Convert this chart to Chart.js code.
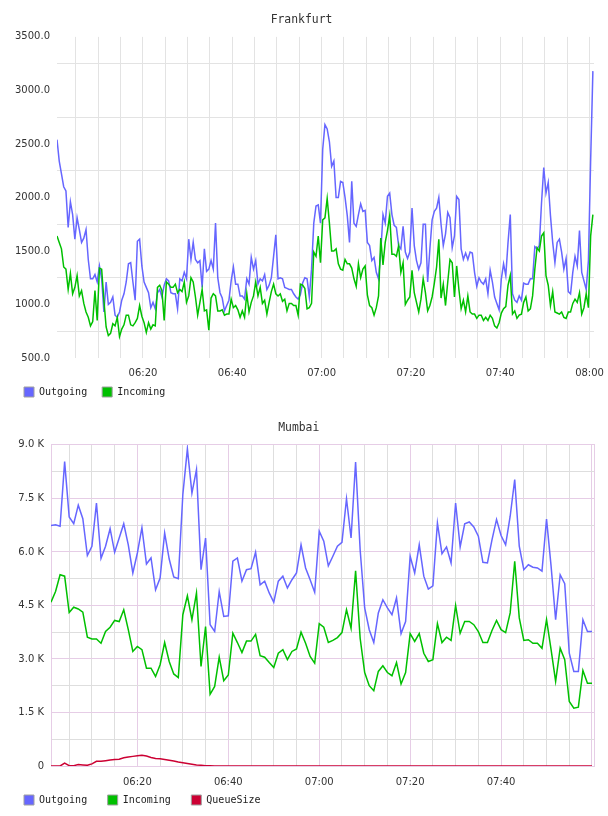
<!DOCTYPE html>
<html>
<head>
<meta charset="utf-8">
<title>Frankfurt / Mumbai</title>
<script src="https://cdn.jsdelivr.net/npm/chart.js@4.4.1/dist/chart.umd.min.js"></script>
<style>
  html, body { margin: 0; padding: 0; background: #fff; }
  .panel { position: absolute; left: 0; width: 608px; height: 408px; }
</style>
</head>
<body>
<div class="panel" style="top:0"><canvas id="frankfurt" width="608" height="408"></canvas></div>
<div class="panel" style="top:408px"><canvas id="mumbai" width="608" height="408"></canvas></div>
<script>
// time is kept in minutes after 06:00
const frankStart = 0.75, frankStep = 0.5;
const frankOut = [
  2540,2340,2220,2100,2060,1720,1960,1840,1610,1810,
  1700,1580,1620,1700,1420,1240,1240,1280,1210,1360,
  1240,930,1210,1000,1020,1070,900,880,930,1040,
  1100,1210,1380,1390,1210,1040,1590,1610,1360,1210,
  1160,1110,970,1020,960,1110,1140,1070,1180,1240,
  1220,1110,1100,1100,960,1240,1220,1300,1240,1610,
  1420,
  1580,1420,1390,1410,1160,1520,1310,1330,1410,1330,
  1760,1250,1110,1060,940,990,1040,1220,1350,1190,
  1190,1080,1080,1050,1240,1190,1440,1330,1410,1190,
  1240,1220,1280,1140,1180,1250,1450,1650,1240,1250,
  1240,1160,1150,1140,1140,1100,1070,1050,1090,1200,
  1250,1240,1070,1330,1760,1920,1930,1760,2450,2680,
  2640,2520,2290,2340,2000,2000,2150,2140,2000,1830,
  1580,2150,1760,1730,1840,1940,1870,1880,1580,1550,
  1410,1440,1300,1240,1490,1840,1760,2010,2040,1840,
  1740,1720,1550,1520,1730,1490,1430,1490,1900,1550,
  1410,1330,1390,1750,1750,1210,1520,1790,1870,1900,
  2000,1750,1550,1660,1860,1810,1530,1640,2010,1980,
  1520,1420,1480,1420,1490,1480,1300,1170,1250,1210,
  1190,1240,1100,1320,1210,1070,1010,950,1240,1380,
  1270,1580,1840,1100,1040,1020,1080,1040,1200,1190,
  1190,1240,1240,1540,1520,1550,1950,2280,2040,2140,
  1830,1580,1390,1580,1610,1490,1330,1430,1120,1100,
  1300,1450,1360,1690,1300,1220,1140,1410,2350,3180
];
const frankIn = [
  1640,1580,1520,1350,1330,1140,1290,1100,1160,1270,
  1080,1130,1010,930,880,800,840,1130,850,1340,
  1330,1040,790,710,730,820,800,880,700,770,
  810,900,900,810,800,830,870,990,890,830,
  740,830,770,810,800,1160,1180,1130,850,1210,
  1190,1160,1160,1190,1110,1140,1120,1210,1020,1080,
  1250,
  1210,1070,900,1020,1140,940,950,760,1060,1100,
  1080,940,940,950,900,910,910,1050,970,990,
  950,880,940,880,1100,930,1020,1080,1210,1080,
  1160,1010,1040,910,1020,1120,1190,1100,1080,1100,
  1030,1050,940,1010,1010,990,990,900,1190,1180,
  1150,960,970,1010,1490,1450,1640,1390,1790,1810,
  1990,1760,1500,1500,1520,1380,1330,1320,1420,1380,
  1380,1340,1240,1170,1380,1250,1330,1360,1090,990,
  970,900,970,1080,1620,1370,1580,1690,1830,1470,
  1470,1450,1550,1300,1390,1000,1040,1070,1320,1110,
  1020,930,1050,1240,1110,940,990,1070,1200,1350,
  1610,1060,1190,990,1210,1420,1390,1070,1360,1140,
  960,1040,930,1080,930,910,910,870,900,900,
  850,880,850,900,870,800,780,830,920,960,
  980,1180,1270,910,940,870,900,910,1020,1070,
  940,960,1080,1330,1530,1500,1640,1670,1270,1180,
  990,1120,930,920,910,930,880,870,930,930,
  1010,1050,1020,1110,910,970,1100,970,1640,1840
];

const mumStart = 1, mumStep = 1;
const mumOut = [
  6740,6760,6720,8530,6980,6790,7310,6930,5900,6160,
  7370,5820,6160,6650,5990,6390,6790,6200,5410,5970,
  6680,5660,5830,4940,5270,6530,5800,5300,5250,7610,
  8890,7650,8310,5500,6390,3960,3770,4890,4190,4210,
  5740,5830,5180,5500,5530,5990,5080,5180,4850,4590,
  5180,5320,4990,5220,5410,6200,5550,5220,4870,6580,
  6300,5610,5880,6160,6270,7490,6390,8520,6060,4430,
  3820,3460,4290,4660,4430,4240,4710,3710,4050,5880,
  5410,6200,5320,4960,5050,6810,5950,6140,5690,7370,
  6140,6790,6840,6700,6440,5710,5690,6340,6910,6460,
  6200,7000,8030,6160,5500,5640,5570,5550,5460,6920,
  5600,4100,5360,5110,3160,2650,2650,4100,3770,3770
];
const mumIn = [
  4590,4890,5360,5320,4300,4450,4400,4310,3610,3560,
  3560,3440,3770,3890,4080,4050,4380,3820,3210,3350,
  3260,2740,2740,2510,2840,3460,2930,2580,2480,4240,
  4770,4100,4850,2790,3910,2010,2230,3050,2390,2550,
  3720,3460,3180,3500,3500,3690,3090,3050,2900,2760,
  3160,3260,2980,3210,3280,3750,3440,3070,2880,3990,
  3890,3460,3520,3600,3740,4380,3860,5470,3580,2620,
  2250,2110,2650,2810,2620,2530,2900,2300,2620,3710,
  3490,3710,3160,2930,2980,3990,3460,3610,3520,4500,
  3720,4050,4050,3960,3770,3460,3460,3800,4080,3820,
  3740,4290,5740,4150,3520,3540,3440,3440,3300,4100,
  3260,2370,3300,2980,1810,1620,1650,2680,2320,2320
];
const mumQueue = [
  0,0,0,80,10,10,40,30,20,60,
  130,130,150,170,180,190,230,250,270,290,
  300,280,240,210,200,180,160,140,110,90,
  70,50,30,20,10,10,0,0,0,0,
  0,0,0,0,0,0,0,0,0,0,
  0,0,0,0,0,0,0,0,0,0,
  0,0,0,0,0,0,0,0,0,0,
  0,0,0,0,0,0,0,0,0,0,
  0,0,0,0,0,0,0,0,0,0,
  0,0,0,0,0,0,0,0,0,0,
  0,0,0,0,0,0,0,0,0,0,
  0,0,0,0,0,0,0,0,0,0
];

// x grid every 5 minutes, labels every 20
const gridMinutes = [5,10,15,20,25,30,35,40,45,50,55,60,65,70,75,80,85,90,95,100,105,110,115,120];
const frankLabelMinutes = [20,40,60,80,100,120];
const mumLabelMinutes = [20,40,60,80,100];

const BLUE = '#6666ff', GREEN = '#00c000', RED = '#cc0033';
const GRID = '#e3e3e3', MINOR = '#dedede', MAJOR = '#e6cde6';
const tickFont = { family: 'DejaVu Sans', size: 10 };

const timeAxis = (start, step, n) => Array.from({ length: n }, (_, i) => start + i * step);

function hhmm(m) {
  const h = 6 + Math.floor(m / 60), mm = m % 60;
  return String(h).padStart(2, '0') + ':' + String(mm).padStart(2, '0');
}

// the x axis is kept short so the legend sits close under it,
// so let its labels draw past the axis box instead of being clipped
const unclipXLabels = {
  id: 'unclipXLabels',
  afterLayout(chart) { chart.scales.x.bottom = chart.height; }
};

function legendOpts(gap) {
  return {
    position: 'bottom',
    align: 'start',
    labels: {
      boxWidth: 10, boxHeight: 10, padding: gap, color: '#222',
      font: { family: 'DejaVu Sans Mono', size: 10 },
      sort: (a, b) => a.datasetIndex - b.datasetIndex,
      generateLabels: chart => Chart.defaults.plugins.legend.labels.generateLabels(chart)
        .map(item => Object.assign(item, { strokeStyle: '#a0a0a0', lineWidth: 1 }))
    }
  };
}

function titleOpts(text) {
  return {
    display: true, text: text, color: '#333',
    font: { family: 'DejaVu Sans Mono', size: 11.4, weight: 'normal' },
    padding: { top: 10, bottom: 10 }
  };
}

function xScale(min, max, labelMinutes, pad, h, gridColor, border) {
  return {
    type: 'linear', min: min, max: max, bounds: 'data',
    afterBuildTicks: s => { s.ticks = gridMinutes.map(v => ({ value: v })); },
    afterFit: s => { s.height = h; s.paddingLeft = 0; s.paddingRight = 0; },
    ticks: {
      autoSkip: false, maxRotation: 0, minRotation: 0, padding: pad,
      color: '#333', font: tickFont,
      callback: v => labelMinutes.includes(v) ? hhmm(v) : ''
    },
    grid: { color: gridColor, drawTicks: false },
    border: border
  };
}

new Chart(document.getElementById('frankfurt'), {
  type: 'line',
  data: {
    labels: timeAxis(frankStart, frankStep, frankOut.length),
    datasets: [
      { label: 'Outgoing', data: frankOut, borderColor: BLUE, backgroundColor: BLUE, order: 1 },
      { label: 'Incoming', data: frankIn, borderColor: GREEN, backgroundColor: GREEN, order: 0 }
    ]
  },
  options: {
    responsive: false, animation: false, events: [],
    layout: { padding: { top: 3.2, left: 9, right: 14, bottom: 1 } },
    elements: { point: { radius: 0 }, line: { borderWidth: 1.5, tension: 0 } },
    plugins: { title: titleOpts('Frankfurt'), legend: legendOpts(15), tooltip: { enabled: false } },
    scales: {
      x: xScale(0.75, 121, frankLabelMinutes, 9, 14, GRID, { display: false }),
      y: {
        min: 500, max: 3500,
        afterFit: s => { s.width = 48; },
        ticks: { stepSize: 500, padding: 7, color: '#333', font: tickFont, callback: v => v.toFixed(1) },
        grid: { offset: true, color: GRID, drawTicks: false },
        border: { display: false }
      }
    }
  },
  plugins: [unclipXLabels]
});

new Chart(document.getElementById('mumbai'), {
  type: 'line',
  data: {
    labels: timeAxis(mumStart, mumStep, mumOut.length),
    datasets: [
      { label: 'Outgoing', data: mumOut, borderColor: BLUE, backgroundColor: BLUE, order: 2 },
      { label: 'Incoming', data: mumIn, borderColor: GREEN, backgroundColor: GREEN, order: 1 },
      { label: 'QueueSize', data: mumQueue, borderColor: RED, backgroundColor: RED, order: 0 }
    ]
  },
  options: {
    responsive: false, animation: false, events: [],
    layout: { padding: { top: 3.2, left: 3.5, right: 14, bottom: 1 } },
    elements: { point: { radius: 0 }, line: { borderWidth: 1.5, tension: 0 } },
    plugins: { title: titleOpts('Mumbai'), legend: legendOpts(20.5), tooltip: { enabled: false } },
    scales: {
      x: xScale(1, 120.44, mumLabelMinutes, 10, 8.5,
        c => (c.tick && c.tick.value % 20 === 0) ? MAJOR : MINOR, { color: MAJOR }),
      y: {
        min: 0, max: 9000,
        afterFit: s => { s.width = 47.5; },
        ticks: {
          stepSize: 750, autoSkip: false, padding: 7, color: '#333', font: tickFont,
          callback: v => v % 1500 ? '' : (v === 0 ? '0' : (v / 1000).toFixed(1) + ' K')
        },
        grid: { color: c => (c.tick && c.tick.value % 1500 === 0) ? MAJOR : MINOR, drawTicks: false },
        border: { color: MAJOR }
      },
      yr: {
        position: 'right',
        ticks: { display: false },
        grid: { display: false, drawTicks: false },
        border: { color: MAJOR }
      }
    }
  },
  plugins: [unclipXLabels]
});
</script>
</body>
</html>
